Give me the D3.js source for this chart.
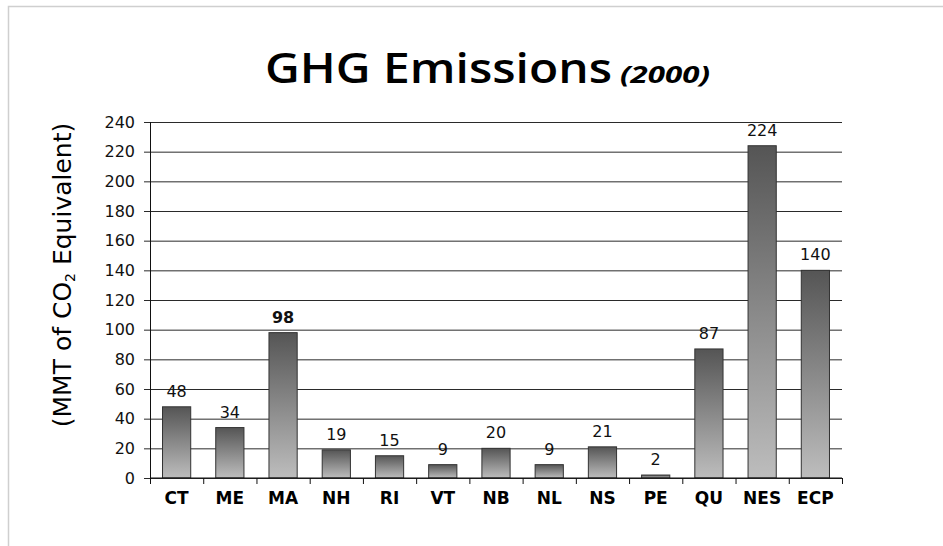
<!DOCTYPE html>
<html>
<head>
<meta charset="utf-8">
<script src="https://cdn.jsdelivr.net/npm/d3@7"></script>
<style>
  body { margin: 0; background: #fff; }
  svg { display: block; }
</style>
</head>
<body>
<div id="chart"></div>
<script>
// categories and values
var regions = ["CT", "ME", "MA", "NH", "RI", "VT", "NB", "NL", "NS", "PE", "QU", "NES", "ECP"];
var emissions = [48, 34, 98, 19, 15, 9, 20, 9, 21, 2, 87, 224, 140];
var yTicks = [0, 20, 40, 60, 80, 100, 120, 140, 160, 180, 200, 220, 240];
var boldLabels = ["MA"];

var width = 943;
var height = 546;
var margin = { top: 122, right: 101, bottom: 68, left: 150 };

var data = regions.map(function (r, i) { return { region: r, value: emissions[i] }; });

var svg = d3.select("#chart").append("svg")
  .attr("width", width)
  .attr("height", height);

// light frame round the picture
svg.append("path")
  .attr("d", "M8.5,560 V6.5 H960")
  .attr("fill", "none")
  .attr("stroke", "#cfcfcf")
  .attr("stroke-width", 1.5);

var defs = svg.append("defs");
var grad = defs.append("linearGradient")
  .attr("id", "barGrad")
  .attr("x1", 0).attr("y1", 0).attr("x2", 0).attr("y2", 1);
grad.append("stop").attr("offset", "0%").attr("stop-color", "#555555");
grad.append("stop").attr("offset", "100%").attr("stop-color", "#bdbdbd");

var x = d3.scaleBand()
  .domain(regions)
  .range([margin.left, width - margin.right])
  .padding(0);

var y = d3.scaleLinear()
  .domain([0, 240])
  .range([height - margin.bottom, margin.top]);

var barW = x.bandwidth() * 0.53;

// title
svg.append("text")
  .attr("x", 265)
  .attr("y", 83)
  .attr("font-family", "'Open Sans', sans-serif")
  .attr("font-size", 42)
  .attr("font-weight", 600)
  .attr("textLength", 347)
  .attr("lengthAdjust", "spacingAndGlyphs")
  .attr("fill", "#000")
  .text("GHG Emissions");
svg.append("text")
  .attr("x", 620)
  .attr("y", 83)
  .attr("font-family", "'Open Sans', sans-serif")
  .attr("font-size", 23)
  .attr("font-weight", 700)
  .attr("font-style", "italic")
  .attr("textLength", 90)
  .attr("lengthAdjust", "spacingAndGlyphs")
  .attr("fill", "#000")
  .text("(2000)");

// grid lines + y axis
var yAxis = svg.append("g")
  .attr("transform", "translate(" + margin.left + ",0)")
  .call(d3.axisLeft(y)
    .tickValues(yTicks)
    .tickSize(-(width - margin.right - margin.left))
    .tickPadding(15));
yAxis.select(".domain").remove();
yAxis.selectAll(".tick line")
  .attr("x1", -6)
  .attr("stroke", "#2a2a2a");
yAxis.selectAll(".tick text")
  .attr("font-family", "'DejaVu Sans', sans-serif")
  .attr("font-size", 16)
  .attr("fill", "#111");

// bars
svg.append("g").selectAll("rect")
  .data(data)
  .join("rect")
  .attr("x", function (d) { return x(d.region) + (x.bandwidth() - barW) / 2; })
  .attr("y", function (d) { return y(d.value); })
  .attr("width", barW)
  .attr("height", function (d) { return y(0) - y(d.value); })
  .attr("fill", "url(#barGrad)")
  .attr("stroke", "#333")
  .attr("stroke-width", 1);

// value labels
svg.append("g").selectAll("text")
  .data(data)
  .join("text")
  .attr("x", function (d) { return x(d.region) + x.bandwidth() / 2; })
  .attr("y", function (d) { return y(d.value) - 10; })
  .attr("text-anchor", "middle")
  .attr("font-family", "'DejaVu Sans', sans-serif")
  .attr("font-size", 16)
  .attr("font-weight", function (d) { return boldLabels.indexOf(d.region) >= 0 ? "bold" : "normal"; })
  .attr("fill", "#111")
  .text(function (d) { return d.value; });

// vertical axis line
svg.append("line")
  .attr("x1", margin.left + 0.5).attr("x2", margin.left + 0.5)
  .attr("y1", margin.top).attr("y2", y(0) + 6)
  .attr("stroke", "#111");

// x axis: baseline with ticks between categories
var xAxis = svg.append("g")
  .attr("transform", "translate(0," + y(0) + ")");
xAxis.append("line")
  .attr("x1", margin.left).attr("x2", width - margin.right)
  .attr("stroke", "#111");
xAxis.selectAll(".sep")
  .data(regions)
  .join("line")
  .attr("class", "sep")
  .attr("x1", function (d) { return x(d) + x.bandwidth() + 0.5; })
  .attr("x2", function (d) { return x(d) + x.bandwidth() + 0.5; })
  .attr("y1", 0).attr("y2", 6)
  .attr("stroke", "#111");
xAxis.selectAll(".lbl")
  .data(regions)
  .join("text")
  .attr("class", "lbl")
  .attr("x", function (d) { return x(d) + x.bandwidth() / 2; })
  .attr("y", 26)
  .attr("text-anchor", "middle")
  .attr("font-family", "'DejaVu Sans', sans-serif")
  .attr("font-size", 17)
  .attr("font-weight", "bold")
  .attr("fill", "#000")
  .text(function (d) { return d; });

// y axis title
var yTitle = svg.append("text")
  .attr("transform", "translate(71,275) rotate(-90)")
  .attr("text-anchor", "middle")
  .attr("font-family", "'DejaVu Sans', sans-serif")
  .attr("font-size", 25)
  .attr("fill", "#000");
yTitle.append("tspan").text("(MMT of CO");
yTitle.append("tspan").attr("font-size", 14).attr("dy", 4).text("2");
yTitle.append("tspan").attr("dy", -4).text(" Equivalent)");
</script>
</body>
</html>
